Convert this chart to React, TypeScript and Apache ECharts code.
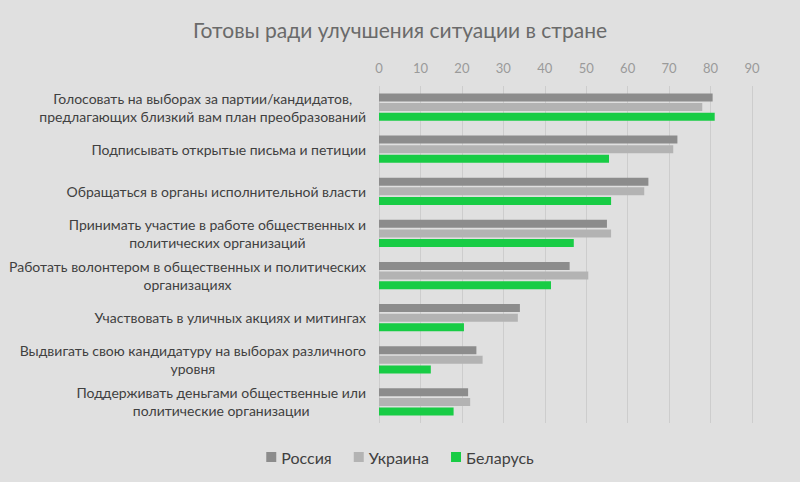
import React, { useEffect, useRef } from "react";
import * as echarts from "echarts";

const categories = [
  "Голосовать на выборах за партии/кандидатов,\nпредлагающих близкий вам план преобразований",
  "Подписывать открытые письма и петиции",
  "Обращаться в органы исполнительной власти",
  "Принимать участие в работе общественных и\nполитических организаций",
  "Работать волонтером в общественных и политических\nорганизациях",
  "Участвовать в уличных акциях и митингах",
  "Выдвигать свою кандидатуру на выборах различного\nуровня",
  "Поддерживать деньгами общественные или\nполитические организации",
];

const russia = [80.5, 72, 65, 55, 46, 34, 23.5, 21.5];
const ukraine = [78, 71, 64, 56, 50.5, 33.5, 25, 22];
const belarus = [81, 55.5, 56, 47, 41.5, 20.5, 12.5, 18];

const seriesNames = ["Россия", "Украина", "Беларусь"];
const colors = ["#8c8c8c", "#b3b3b3", "#18cc45"];

const FONT = "Lato, 'Open Sans', sans-serif";

export default function App() {
  const ref = useRef<HTMLDivElement>(null);
  useEffect(() => {
    if (!ref.current) return;
    const chart = echarts.init(ref.current, undefined, { renderer: "svg" });
    const data = [russia, ukraine, belarus];
    chart.setOption({
      animation: false,
      backgroundColor: "#e0e0e0",
      textStyle: { fontFamily: FONT },
      title: {
        text: "Готовы ради улучшения ситуации в стране",
        left: "center",
        top: 14,
        textStyle: { fontSize: 21, fontWeight: "normal", color: "#6a6a6a", fontFamily: FONT },
      },
      legend: {
        bottom: 12,
        left: "center",
        itemWidth: 10,
        itemHeight: 10,
        itemGap: 22,
        icon: "rect",
        textStyle: { fontSize: 16, color: "#404040", fontFamily: FONT },
        data: seriesNames,
      },
      grid: { left: 379, right: 48, top: 86, bottom: 59, outerBoundsMode: "none", containLabel: false },
      xAxis: {
        type: "value",
        position: "top",
        min: 0,
        max: 90,
        interval: 10,
        axisLine: { show: false },
        axisTick: { show: false },
        axisLabel: { color: "#9a9a9a", fontSize: 13, margin: 12, fontFamily: FONT },
        splitLine: { lineStyle: { color: "#cdcdcd", width: 1 } },
      },
      yAxis: {
        type: "category",
        inverse: true,
        data: categories,
        axisLine: { show: false },
        axisTick: { show: false },
        axisLabel: {
          color: "#404040",
          fontSize: 14,
          lineHeight: 18,
          margin: 13,
          align: "right",
          fontFamily: FONT,
          formatter: (v: string) =>
            v
              .split("\n")
              .map((l) => "{c|" + l + "}")
              .join("\n"),
          rich: {
            c: {
              align: "center",
              fontSize: 14,
              lineHeight: 18,
              color: "#404040",
              fontFamily: FONT,
            },
          },
        },
      },
      series: seriesNames.map((name, i) => ({
        name,
        type: "bar",
        data: data[i],
        barWidth: 8,
        barGap: "20%",
        itemStyle: { color: colors[i] },
      })),
    });
    return () => chart.dispose();
  }, []);
  return (
    <div
      ref={ref}
      style={{ position: "absolute", left: 0, top: 0, width: 800, height: 482 }}
    />
  );
}
